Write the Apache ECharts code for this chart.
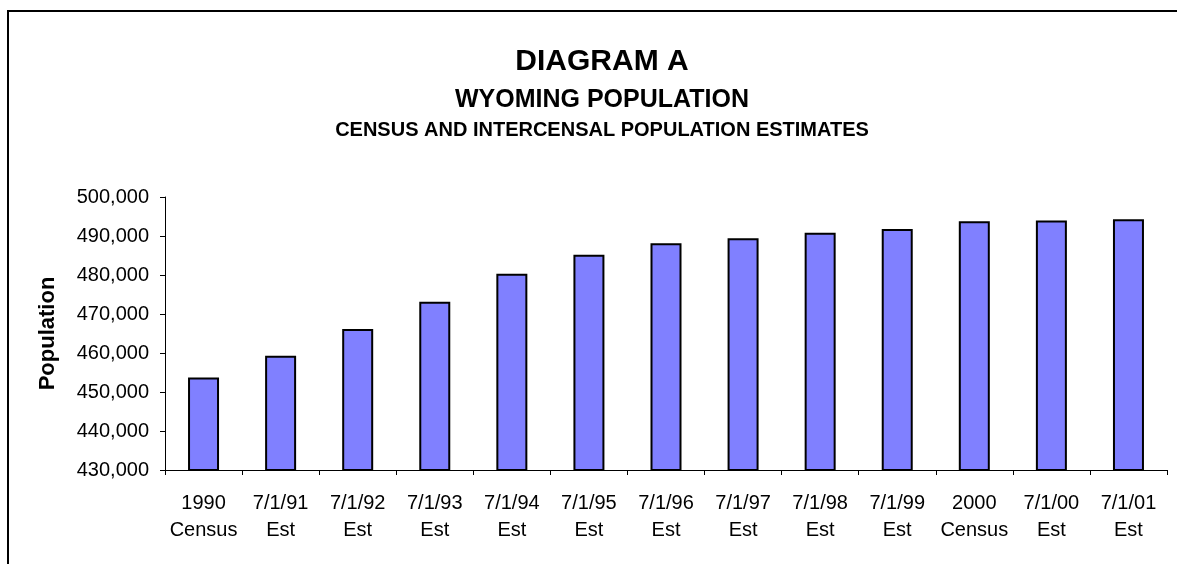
<!DOCTYPE html>
<html>
<head>
<meta charset="utf-8">
<title>Diagram A - Wyoming Population</title>
<script src="https://cdn.jsdelivr.net/npm/echarts@6/dist/echarts.min.js"></script>
<style>
  html, body { margin: 0; padding: 0; background: #fff; }
  #echart-bar { width: 1177px; height: 564px; }
</style>
</head>
<body>
<div id="echart-bar"></div>
<script>
// 数据
var categories = [
  "1990\nCensus", "7/1/91\nEst", "7/1/92\nEst", "7/1/93\nEst", "7/1/94\nEst",
  "7/1/95\nEst", "7/1/96\nEst", "7/1/97\nEst", "7/1/98\nEst", "7/1/99\nEst",
  "2000\nCensus", "7/1/00\nEst", "7/1/01\nEst"
];
var population = [
  453700, 459300, 466150, 473150, 480300,
  485200, 488150, 489400, 490850, 491800,
  493780, 493950, 494300
];
var yMin = 430000;
var yMax = 500000;
var yStep = 10000;

var FONT = "Arial, 'Liberation Sans', sans-serif";

var myChart = echarts.init(document.getElementById("echart-bar"));

var option = {
  backgroundColor: "#fff",
  animation: false,
  title: [
    {
      text: "DIAGRAM A",
      left: 597,
      top: 42,
      textAlign: "center",
      textStyle: { fontFamily: FONT, fontSize: 30, fontWeight: "bold", color: "#000" }
    },
    {
      text: "WYOMING POPULATION",
      left: 597,
      top: 83,
      textAlign: "center",
      textStyle: { fontFamily: FONT, fontSize: 25, fontWeight: "bold", color: "#000" }
    },
    {
      text: "CENSUS AND INTERCENSAL POPULATION ESTIMATES",
      left: 597,
      top: 115,
      textAlign: "center",
      textStyle: { fontFamily: FONT, fontSize: 20, fontWeight: "bold", color: "#000" }
    }
  ],
  // 外框 (只露出左边和上边)
  graphic: [
    {
      type: "rect",
      shape: { x: 8, y: 11, width: 1400, height: 800 },
      style: { fill: "none", stroke: "#000", lineWidth: 2 },
      silent: true
    }
  ],
  grid: {
    left: 165,
    right: 10,
    top: 197,
    bottom: 94
  },
  xAxis: {
    type: "category",
    data: categories,
    axisLine: { lineStyle: { color: "#000", width: 1 } },
    axisTick: { show: true, length: 5, lineStyle: { color: "#000" } },
    axisLabel: {
      interval: 0,
      margin: 20,
      fontFamily: FONT,
      fontSize: 20,
      lineHeight: 27,
      color: "#000"
    }
  },
  yAxis: {
    type: "value",
    min: yMin,
    max: yMax,
    interval: yStep,
    name: "Population",
    nameLocation: "middle",
    nameRotate: 90,
    nameGap: 106,
    nameTextStyle: { fontFamily: FONT, fontSize: 22, fontWeight: "bold", color: "#000" },
    splitLine: { show: false },
    axisLine: { show: true, lineStyle: { color: "#000", width: 1 } },
    axisTick: { show: true, length: 5, lineStyle: { color: "#000" } },
    axisLabel: {
      margin: 16,
      fontFamily: FONT,
      fontSize: 20,
      color: "#000",
      formatter: function (value) {
        return value.toLocaleString("en-US");
      }
    }
  },
  series: [
    {
      type: "bar",
      data: population,
      barWidth: 31,
      itemStyle: {
        color: "#8080FF",
        borderColor: "#000",
        borderWidth: 2
      }
    }
  ]
};

myChart.setOption(option);
</script>
</body>
</html>
